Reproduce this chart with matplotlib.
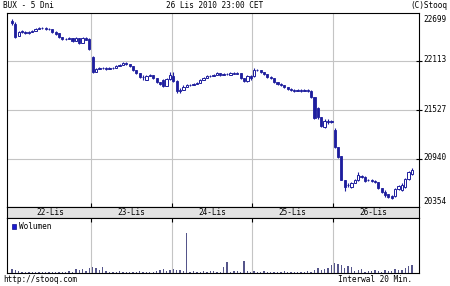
import matplotlib
matplotlib.use("Agg")
import matplotlib.pyplot as plt
import numpy as np

# ---- data ----
days = ["22-Lis", "23-Lis", "24-Lis", "25-Lis", "26-Lis"]
bars_per_day = 24
y_ticks = [22699, 22113, 21527, 20940, 20354]

opens = [
 22602,22566,22421,22469,22469,22457,22469,22481,22506,22518,22518,22506,22506,22469,22457,22409,22385,22385,22397,22360,22397,22336,22397,22385,
 22167,21986,22022,22034,22034,22022,22034,22034,22058,22070,22095,22083,22058,22010,21974,21925,21889,21938,21950,21913,21865,21889,21817,21901,
 21938,21877,21756,21768,21805,21829,21829,21841,21853,21889,21913,21938,21938,21950,21974,21950,21962,21950,21974,21962,21974,21913,21877,21938,
 21938,22010,22010,21986,21962,21925,21913,21865,21841,21829,21805,21780,21768,21756,21768,21756,21768,21756,21684,21551,21442,21321,21394,21382,
 21285,21079,20970,20680,20620,20596,20644,20680,20729,20717,20680,20680,20668,20656,20584,20535,20511,20487,20487,20572,20559,20596,20692,20753]
highs = [
 22626,22590,22481,22493,22481,22481,22493,22518,22530,22530,22530,22518,22506,22481,22457,22409,22397,22409,22397,22409,22397,22409,22409,22397,
 22179,22034,22046,22046,22046,22046,22046,22070,22083,22107,22107,22083,22058,22010,21974,21950,21950,21962,21950,21913,21865,21901,21913,21986,
 21986,21889,21792,21829,21841,21841,21853,21865,21901,21925,21950,21950,21962,21986,21974,21974,21974,21986,21986,21986,21974,21913,21950,21950,
 22034,22022,22010,21986,21962,21938,21913,21865,21853,21829,21805,21792,21780,21780,21780,21780,21780,21768,21684,21563,21442,21418,21418,21406,
 21309,21079,20970,20680,20644,20656,20692,20777,20741,20729,20692,20692,20680,20656,20584,20559,20511,20499,20584,20620,20644,20705,20789,20825]
lows = [
 22554,22397,22421,22457,22445,22445,22469,22481,22506,22506,22493,22493,22457,22433,22397,22373,22373,22385,22348,22360,22324,22336,22373,22252,
 21974,21986,22022,22022,22010,22022,22022,22034,22058,22070,22070,22046,21998,21962,21913,21889,21889,21938,21901,21853,21829,21805,21817,21889,
 21865,21732,21732,21768,21805,21817,21829,21841,21853,21889,21913,21925,21938,21950,21938,21950,21950,21950,21962,21962,21901,21865,21865,21889,
 21926,21998,21974,21950,21913,21901,21853,21829,21817,21792,21768,21756,21744,21756,21744,21756,21744,21671,21418,21418,21321,21309,21358,21370,
 21067,20946,20680,20547,20596,20584,20644,20668,20705,20656,20668,20656,20644,20572,20523,20475,20463,20451,20475,20559,20547,20584,20680,20741]
closes = [
 22578,22409,22469,22481,22457,22469,22481,22506,22518,22518,22506,22506,22469,22445,22409,22385,22385,22397,22360,22397,22336,22397,22373,22264,
 21986,22022,22034,22034,22022,22034,22034,22058,22070,22095,22083,22058,22010,21974,21925,21925,21938,21950,21913,21865,21841,21817,21901,21950,
 21877,21756,21768,21805,21829,21829,21841,21853,21889,21913,21938,21938,21950,21974,21950,21962,21962,21974,21962,21974,21913,21877,21938,21913,
 22010,22010,21986,21962,21925,21913,21865,21841,21829,21805,21780,21768,21756,21768,21756,21768,21756,21684,21430,21442,21334,21394,21382,21394,
 21079,20958,20680,20596,20620,20644,20680,20741,20717,20668,20680,20668,20656,20584,20535,20499,20475,20463,20572,20608,20620,20692,20777,20801]
volumes = [
 400,300,200,100,100,100,100,100,100,100,100,100,100,100,100,100,100,200,100,400,300,400,200,500,
 600,500,300,600,200,100,100,100,200,100,100,100,100,100,200,100,100,100,100,200,300,400,200,300,
 400,300,300,200,4000,100,200,100,100,200,100,200,200,100,100,600,1100,100,200,200,100,1200,200,100,
 200,100,100,200,100,100,100,100,100,200,100,100,100,100,100,100,200,100,300,500,300,400,500,800,
 1000,900,800,500,700,600,200,300,400,100,200,200,300,200,100,300,200,200,400,300,300,500,700,800]

# ---- style ----
W, H = 450, 286
fig = plt.figure(figsize=(W/100, H/100), dpi=100)
blue = "#1e1e9e"
grid = "#c4c4c4"
fnt = dict(family="DejaVu Sans Mono", fontsize=5.6, color="black")

def fx(px): return px / W
def fy(py): return 1 - py / H

x0, x1 = 7, 419
ax = fig.add_axes([fx(x0), fy(207), (x1-x0)/W, (207-13)/H])
st = fig.add_axes([fx(x0), fy(218), (x1-x0)/W, (218-207)/H])
av = fig.add_axes([fx(x0), fy(273), (x1-x0)/W, (273-218)/H])

n = len(closes)
idx = np.arange(n) + 0.5
xlim = (-1.0, 121.6)
o = np.array(opens); c = np.array(closes); h = np.array(highs); l = np.array(lows)
up = c > o

ax.vlines(idx, l, h, color=blue, lw=0.8, zorder=3)
bot = np.minimum(o, c); hgt = np.abs(c - o)
ax.bar(idx[~up], hgt[~up], bottom=bot[~up], width=0.62, color=blue, edgecolor=blue, lw=0.6, zorder=4)
ax.bar(idx[up], hgt[up], bottom=bot[up], width=0.75, color="white", edgecolor=blue, lw=0.7, zorder=4)

ax.set_xlim(*xlim)
ax.set_ylim(y_ticks[-1], y_ticks[0])
for yv in y_ticks[1:-1]:
    ax.axhline(yv, color=grid, lw=0.8, zorder=1)
bounds = [bars_per_day * k for k in range(1, len(days))]
for b in bounds:
    ax.axvline(b, color=grid, lw=0.8, zorder=1)
    av.axvline(b, color=grid, lw=0.8, zorder=1)
ax.set_xticks(bounds)
ax.set_xticklabels([])
ax.tick_params(axis="x", direction="in", length=3, width=0.8, color="black")
ax.set_yticks(y_ticks[1:-1])
ax.yaxis.tick_right()
ax.set_yticklabels([])
ax.tick_params(axis="y", direction="inout", length=4, width=0.8, right=True, left=False)
for s in ax.spines.values():
    s.set_color("black"); s.set_linewidth(0.8)

# right price labels
label_py = [19, 60, 110, 158, 202]
for v, py in zip(y_ticks, label_py):
    fig.text(fx(423), fy(py), str(v), ha="left", va="center", **fnt)

# date strip
st.set_facecolor("#e2e2e2")
st.set_xlim(*xlim); st.set_ylim(0, 1)
st.set_xticks([]); st.set_yticks([])
for s in st.spines.values():
    s.set_color("black"); s.set_linewidth(0.8)
for k, d in enumerate(days):
    st.text(bars_per_day * (k + 0.5), 0.5, d, ha="center", va="center", **fnt)

# volume
av.bar(idx, volumes, width=0.4, color="#55558a", zorder=3)
av.set_xlim(*xlim); av.set_ylim(0, 5500)
av.set_xticks(bounds); av.set_xticklabels([])
av.tick_params(axis="x", direction="in", length=3, width=0.8, top=True, bottom=False)
av.set_yticks([])
for s in av.spines.values():
    s.set_color("black"); s.set_linewidth(0.8)
fig.patches.append(plt.Rectangle((fx(12), fy(229)), 4/W, 5/H, transform=fig.transFigure,
                                 facecolor="#1a1ad0", edgecolor="#10108a", lw=0.5))
fig.text(fx(19), fy(226.5), "Wolumen", ha="left", va="center", **fnt)

# header/footer
fig.text(fx(3), fy(6), "BUX - 5 Dni", ha="left", va="center", **fnt)
fig.text(fx(215), fy(6), "26 Lis 2010 23:00 CET", ha="center", va="center", **fnt)
fig.text(fx(447), fy(6), "(C)Stooq", ha="right", va="center", **fnt)
fig.text(fx(3), fy(280), "http://stooq.com", ha="left", va="center", **fnt)
fig.text(fx(412), fy(280), "Interwal 20 Min.", ha="right", va="center", **fnt)

fig.savefig("out.png", dpi=100, facecolor="white")
